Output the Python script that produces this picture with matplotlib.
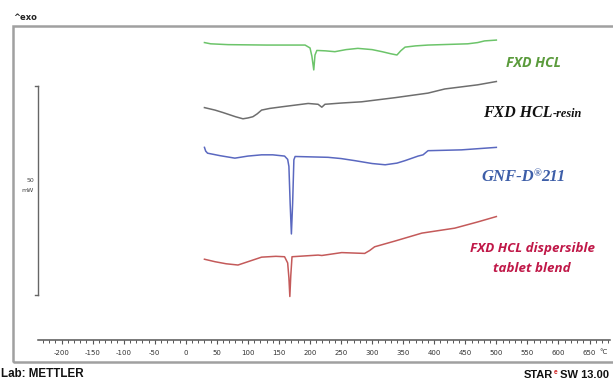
import matplotlib
matplotlib.use("Agg")
import matplotlib.pyplot as plt
from matplotlib.patches import Rectangle
from matplotlib.lines import Line2D

# ---------------- data (temperature in degC, heat flow in mW, offset curves) -------------
t_fxd = [30, 40, 68, 130, 192, 200, 203, 206, 208, 211, 225, 240, 258, 277, 300, 316, 330, 340, 346, 353, 370, 390, 454, 470, 481, 500]
hf_fxd = [71.8, 71.5, 71.3, 71.2, 71.2, 70.5, 68.5, 65.2, 68.8, 69.9, 69.8, 69.6, 70.1, 70.4, 70.1, 69.6, 69.1, 68.8, 69.8, 70.7, 71.0, 71.2, 71.5, 71.8, 72.2, 72.4]

t_resin = [30, 47, 60, 80, 92, 100, 108, 115, 122, 135, 155, 197, 213, 219, 224, 250, 283, 337, 390, 417, 470, 500]
hf_resin = [56.1, 55.5, 54.9, 53.9, 53.4, 53.6, 53.9, 54.6, 55.5, 55.9, 56.3, 57.1, 56.9, 56.2, 56.9, 57.2, 57.5, 58.5, 59.6, 60.6, 61.6, 62.4]

t_gnf = [30, 32, 35, 55, 79, 100, 122, 140, 159, 164, 166, 168, 170, 172, 174, 176, 229, 250, 272, 300, 321, 340, 353, 374, 382, 390, 444, 500]
hf_gnf = [46.5, 45.6, 45.1, 44.5, 43.9, 44.4, 44.7, 44.7, 44.4, 43.6, 41.9, 33.0, 25.6, 33.0, 43.5, 44.3, 44.1, 43.8, 43.3, 42.6, 42.3, 42.7, 43.3, 44.4, 44.7, 45.7, 45.9, 46.5]

t_blend = [30, 47, 65, 84, 100, 122, 145, 159, 164, 166, 167.5, 169, 171, 213, 219, 251, 288, 296, 304, 337, 380, 433, 470, 500]
hf_blend = [19.5, 18.9, 18.4, 18.1, 18.9, 20.0, 20.2, 20.1, 18.6, 15.0, 10.5, 15.5, 20.1, 20.5, 20.4, 21.1, 20.9, 21.6, 22.5, 23.9, 25.8, 27.0, 28.5, 29.8]

x_ticks = list(range(-200, 651, 50))
x_minor = list(range(-230, 681, 10))
scale_bar_mw = 50

W, H = 613, 381
fig = plt.figure(figsize=(W / 100, H / 100), dpi=100)


def fx(px):
    return px / W


def fy(py):
    return 1 - py / H


# outer frame
frame = Rectangle((fx(13), fy(362)), fx(640) - fx(13), fy(26) - fy(362),
                  transform=fig.transFigure, fill=False, edgecolor="#a0a0a0", lw=1.8, clip_on=False)
fig.patches.append(frame)

# main axes
ax = fig.add_axes([fx(38), fy(340), fx(610) - fx(38), fy(26) - fy(340)])
ax.set_xlim(-238, 683)
ax.set_ylim(0, 75.8)
ax.patch.set_alpha(0)
for s in ["left", "right", "top"]:
    ax.spines[s].set_visible(False)
ax.spines["bottom"].set_color("#555555")
ax.spines["bottom"].set_linewidth(1.1)
ax.set_yticks([])
ax.set_xticks(x_ticks)
ax.set_xticks(x_minor, minor=True)
ax.set_xticklabels([str(v) for v in x_ticks], fontsize=5.0, color="#333333", family="DejaVu Sans")
ax.tick_params(axis="x", which="major", length=3, width=0.8, color="#555555", pad=4.5)
ax.tick_params(axis="x", which="minor", length=2, width=0.7, color="#555555")

ax.plot(t_fxd, hf_fxd, color="#6cc46a", lw=1.1)
ax.plot(t_resin, hf_resin, color="#6e6e6e", lw=1.1)
ax.plot(t_gnf, hf_gnf, color="#5a68c0", lw=1.1)
ax.plot(t_blend, hf_blend, color="#c45a5a", lw=1.1)

# scale bar (50 mW)
fig.lines.append(Line2D([fx(38), fx(38)], [fy(86), fy(295)], transform=fig.transFigure, color="#666666", lw=1.0))
fig.lines.append(Line2D([fx(35), fx(38)], [fy(86), fy(86)], transform=fig.transFigure, color="#666666", lw=1.0))
fig.lines.append(Line2D([fx(35), fx(38)], [fy(295), fy(295)], transform=fig.transFigure, color="#666666", lw=1.0))
fig.text(fx(30), fy(180), str(scale_bar_mw), fontsize=4.5, color="#444444", ha="center", va="center")
fig.text(fx(27), fy(190), "mW", fontsize=4.5, color="#444444", ha="center", va="center")

fig.text(fx(603), fy(352), "°C", fontsize=5.0, color="#333333", ha="center", va="center")

# header / footer
fig.text(fx(13), fy(18), "^exo", fontsize=6, color="#222222", ha="left", va="center", weight="bold")
fig.text(fx(1), fy(374), "Lab: METTLER", fontsize=8.4, color="#111111", ha="left", va="center",
         weight="bold", family="Liberation Sans")

fig.canvas.draw()
renderer = fig.canvas.get_renderer()


def pieces(x_px, y_px, parts, right_edge=None):
    """parts: list of (text, size, color, dy_px, family, style)"""
    texts = []
    x = x_px
    for txt, size, color, dy, family, style in parts:
        t = fig.text(fx(x), fy(y_px + dy), txt, fontsize=size, color=color, ha="left",
                     va="baseline", weight="bold", style=style, family=family)
        bb = t.get_window_extent(renderer)
        texts.append((t, x))
        x += bb.width
    if right_edge is not None:
        shift = right_edge - x
        for t, x0 in texts:
            t.set_x(fx(x0 + shift))


pieces(530, 378, [("STAR", 8.0, "#111111", 0, "Liberation Sans", "normal"),
                  ("e", 4.8, "#d02020", -4, "Liberation Sans", "normal"),
                  (" SW 13.00", 8.0, "#111111", 0, "Liberation Sans", "normal")], right_edge=609)

# curve labels
fig.text(fx(534), fy(63), "FXD HCL", fontsize=10.2, color="#5b9b3c", ha="center", va="center",
         weight="bold", style="italic", family="Open Sans")
pieces(483, 117, [("FXD HCL", 11.4, "#111111", 0, "Liberation Serif", "italic"),
                  ("-resin", 8.8, "#111111", 0, "Liberation Serif", "italic")])
pieces(481, 181, [("GNF-D", 12, "#3d5ea8", 0, "Liberation Serif", "italic"),
                  ("®", 7.5, "#3d5ea8", -5, "Liberation Serif", "italic"),
                  ("211", 12, "#3d5ea8", 0, "Liberation Serif", "italic")])
fig.text(fx(532), fy(249), "FXD HCL dispersible", fontsize=9.6, color="#c01848", ha="center", va="center",
         weight="bold", style="italic", family="Open Sans")
fig.text(fx(532), fy(268), "tablet blend", fontsize=9.6, color="#c01848", ha="center", va="center",
         weight="bold", style="italic", family="Open Sans")

fig.savefig("out.png", dpi=100)
